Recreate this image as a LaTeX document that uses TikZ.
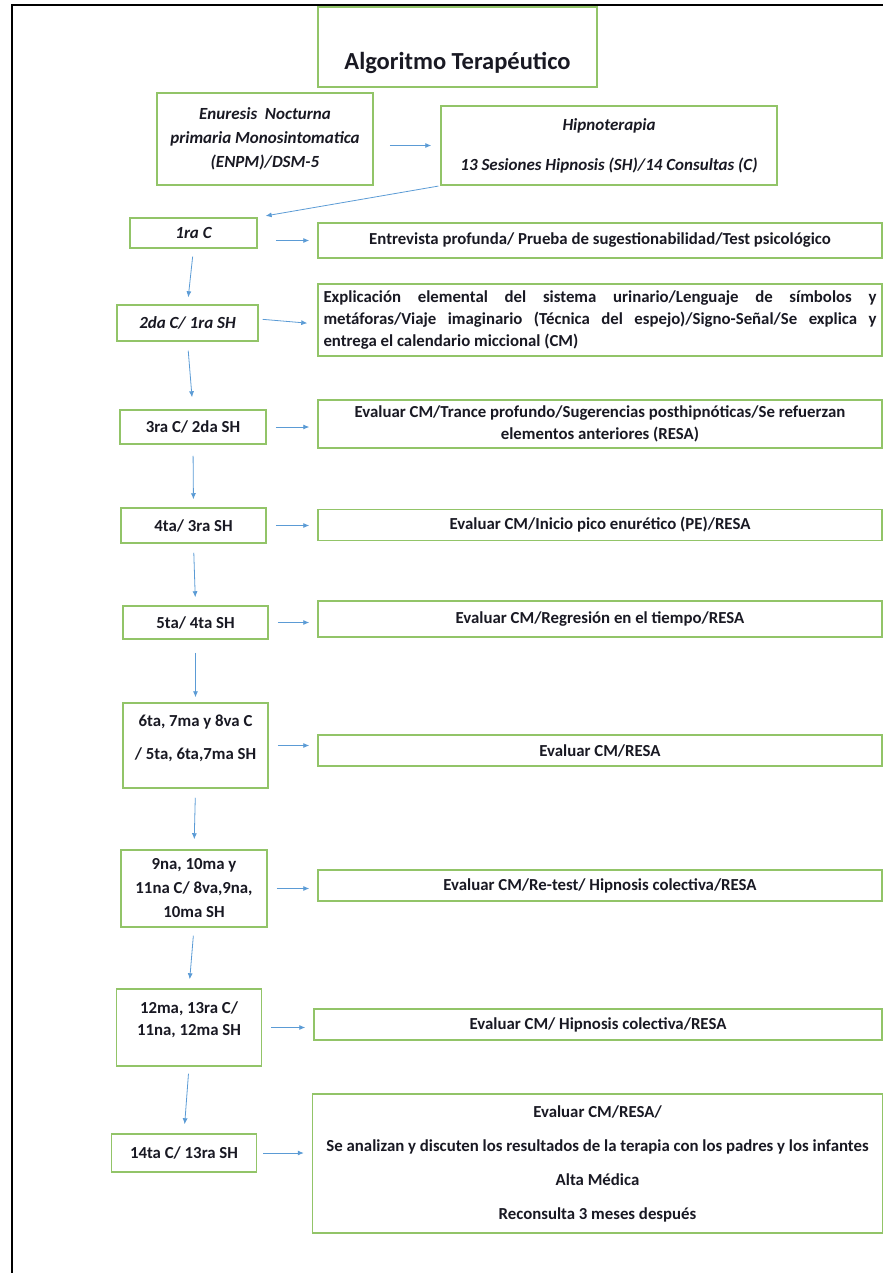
\documentclass[tikz,border=0pt]{standalone}
\usepackage{fontspec}
\setmainfont{Carlito}
\usepackage{tikz}
\usetikzlibrary{arrows.meta}
\definecolor{boxgreen}{RGB}{146,196,104}
\definecolor{linkblue}{RGB}{91,155,213}
\definecolor{inkdark}{RGB}{25,25,35}
\tikzset{%
  >={Latex[width=5pt,length=6pt]},
  % Specifications for style of nodes:
       base/.style = {rectangle, draw=boxgreen, line width=1.5pt, inner sep=0pt,
                      text=inkdark, text centered, align=center,
                      font=\fontsize{16.8}{24}\selectfont\bfseries},
   italbase/.style = {base, font=\fontsize{17}{24}\selectfont\bfseries\itshape},
   titlebox/.style = {base, font=\fontsize{24.5}{28}\selectfont\bfseries},
    stepbox/.style = {base, minimum width=145pt},
   stepital/.style = {italbase, minimum width=145pt},
    taskbox/.style = {base, minimum width=564pt},
       link/.style = {->, draw=linkblue, line width=0.8pt, shorten <=8pt, shorten >=7pt},
}

\begin{document}
\begin{tikzpicture}[x=1pt, y=-1pt]
  \useasboundingbox (0,0) rectangle (883,1273);
  \draw[line width=2.5pt] (12,1273) -- (12,5) -- (883,5);

  \node (title) [titlebox, minimum width=279pt, text height=63pt, text depth=17pt] at (457.5,47) {Algoritmo Terapéutico};
  \node (enpm)  [italbase, minimum width=216pt, minimum height=92pt] at (265,139) {Enuresis\ \ Nocturna\\primaria Monosintomatica\\(ENPM)/DSM-5};
  \node (hipno) [italbase, minimum width=336pt, minimum height=79pt] at (609,145.5) {Hipnoterapia\\[16pt]13 Sesiones Hipnosis (SH)/14 Consultas (C)};

  \node (c1) [stepital, minimum width=127pt, minimum height=30pt] at (193.5,233) {1ra C};
  \node (t1) [taskbox, minimum height=35pt] at (600,240.5) {Entrevista profunda/ Prueba de sugestionabilidad/Test psicológico};
  \node (c2) [stepital, minimum width=141pt, minimum height=36pt] at (187.5,323) {2da C/ 1ra SH};
  \node (t2) [taskbox, minimum height=72pt, align=left, font=\fontsize{16.8}{22}\selectfont\bfseries] at (600,320)
        {\makebox[553pt][s]{Explicación elemental del sistema urinario/Lenguaje de símbolos y}\\
         \makebox[553pt][s]{metáforas/Viaje imaginario (Técnica del espejo)/Signo-Señal/Se explica y}\\
         entrega el calendario miccional (CM)};
  \node (c3) [stepbox, minimum width=146pt, minimum height=34pt] at (193,427) {3ra C/ 2da SH};
  \node (t3) [taskbox, minimum height=48pt, font=\fontsize{16.8}{22}\selectfont\bfseries] at (600,424)
        {Evaluar CM/Trance profundo/Sugerencias posthipnóticas/Se refuerzan\\elementos anteriores (RESA)};
  \node (c4) [stepbox, minimum height=35pt] at (193.5,525.5) {4ta/ 3ra SH};
  \node (t4) [taskbox, minimum height=31pt] at (600,525) {Evaluar CM/Inicio pico enurético (PE)/RESA};
  \node (c5) [stepbox, minimum height=33pt] at (195.5,622.5) {5ta/ 4ta SH};
  \node (t5) [taskbox, minimum height=36pt] at (600,619) {Evaluar CM/Regresión en el tiempo/RESA};
  \node (c6) [stepbox, minimum height=85pt] at (195.5,745.5) {6ta, 7ma y 8va C\\[9pt]/ 5ta, 6ta,7ma SH\\[-8pt]\mbox{}};
  \node (t6) [taskbox, minimum height=31pt] at (600,750.5) {Evaluar CM/RESA};
  \node (c7) [stepbox, minimum width=146pt, minimum height=77pt] at (194,888.5) {9na, 10ma y\\11na C/ 8va,9na,\\10ma SH};
  \node (t7) [taskbox, minimum height=31pt] at (600,885.5) {Evaluar CM/Re-test/ Hipnosis colectiva/RESA};
  \node (c8) [stepbox, minimum height=77pt, font=\fontsize{16.8}{22}\selectfont\bfseries] at (189,1027.5) {12ma, 13ra C/\\11na, 12ma SH\\[-4pt]\mbox{}};
  \node (t8) [taskbox, minimum width=568pt, minimum height=31pt] at (598,1024.5) {Evaluar CM/ Hipnosis colectiva/RESA};
  \node (c9) [stepbox, minimum height=38pt] at (184,1153) {14ta C/ 13ra SH};
  \node (t9) [taskbox, minimum width=570pt, minimum height=139pt] at (597.5,1163.5)
        {Evaluar CM/RESA/\\[10pt]Se analizan y discuten los resultados de la terapia con los padres y los infantes\\[10pt]Alta Médica\\[10pt]Reconsulta 3 meses después};

  \draw[link, shorten <=16pt, shorten >=9pt] (enpm.east |- hipno.west) -- (hipno.west);
  \draw[link, shorten <=2pt, shorten >=8pt] (hipno.south west) -- (c1.north east);
  \draw[link, shorten <=18pt, shorten >=8pt] (c1.east |- t1.west) -- (t1.west);
  \draw[link] (c1.south) -- (c2.north);
  \draw[link, shorten <=4pt, shorten >=10pt] ([yshift=4pt]c2.east) -- ([yshift=-4pt]t2.west);
  \draw[link, shorten <=9pt, shorten >=12pt] (c2.south) -- (c3.north);
  \draw[link, shorten <=9pt, shorten >=8pt] (c3.east) -- (c3.east -| t3.west);
  \draw[link, shorten <=11pt, shorten >=8pt] (c3.south) -- (c4.north);
  \draw[link, shorten <=9pt, shorten >=8pt] (c4.east) -- (c4.east -| t4.west);
  \draw[link, shorten <=9pt, shorten >=8pt] (c4.south) -- (c5.north);
  \draw[link, shorten <=9pt, shorten >=8pt] (c5.east) -- (c5.east -| t5.west);
  \draw[link, shorten <=13pt, shorten >=5pt] (c5.south) -- (c6.north);
  \draw[link, shorten <=9pt, shorten >=8pt] (c6.east) -- (c6.east -| t6.west);
  \draw[link, shorten <=9pt, shorten >=10pt] (c6.south) -- (c7.north);
  \draw[link, shorten <=9pt, shorten >=8pt] (c7.east) -- (c7.east -| t7.west);
  \draw[link, shorten <=8pt, shorten >=9pt] (c7.south) -- (c8.north);
  \draw[link, shorten <=9pt, shorten >=8pt] (c8.east) -- (c8.east -| t8.west);
  \draw[link, shorten <=7pt, shorten >=9pt] (c8.south) -- (c9.north);
  \draw[link, shorten <=6pt, shorten >=8pt] (c9.east) -- (c9.east -| t9.west);
\end{tikzpicture}
\end{document}
